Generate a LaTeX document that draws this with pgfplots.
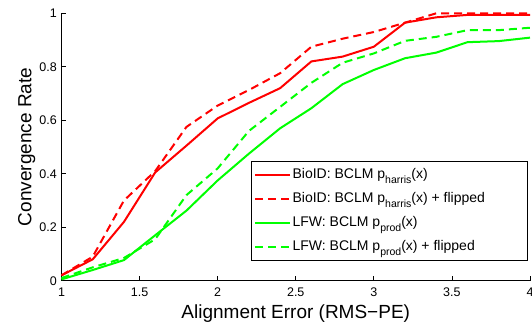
\documentclass[border=0pt]{standalone}
\usepackage{pgfplots}
\pgfplotsset{compat=1.18}
\usepackage{fontspec}
\setmainfont{Liberation Sans}
\definecolor{mred}{rgb}{1,0,0}
\definecolor{mgreen}{rgb}{0,1,0}
\newcommand{\sub}[1]{\raisebox{-4.5pt}{\fontsize{10.5}{10.5}\selectfont #1}}
\newcommand{\entry}[1]{\makebox[230pt][l]{#1}}
\begin{document}
\begin{tikzpicture}
\begin{axis}[
  scale only axis, width=468.5pt, height=267.4pt,
  xmin=1, xmax=4, ymin=0, ymax=1,
  axis lines=left, axis line style={-, line width=0.8pt, black},
  tick align=inside, major tick length=5pt,
  tick style={line width=0.8pt, black},
  xtick={1,1.5,2,2.5,3,3.5,4},
  ytick={0,0.2,0.4,0.6,0.8,1},
  xticklabels={1,1.5,2,2.5,3,3.5,4},
  yticklabels={0,0.2,0.4,0.6,0.8,1},
  /pgf/number format/assume math mode=true,
  tick label style={font=\fontsize{12.5}{14}\selectfont},
  xticklabel style={anchor=north, inner sep=0pt, yshift=-7pt},
  yticklabel style={anchor=east, inner sep=0pt, xshift=-4.5pt},
  xlabel={Alignment Error (RMS−PE)},
  ylabel={Convergence Rate},
  label style={font=\fontsize{19}{22}\selectfont, inner sep=0pt},
  xlabel style={at={(axis description cs:0.5,-0.1418)}, anchor=base},
  ylabel style={at={(axis description cs:-0.0555,0.5)}, anchor=south},
  clip=false,
  legend style={at={(axis description cs:0.9947,0.4477)}, anchor=north east,
    draw=black, line width=0.8pt, inner xsep=3pt, inner ysep=4pt,
    row sep=5pt,
    nodes={inner sep=1.5pt, text height=12pt, text depth=4pt, anchor=base west},
    font=\fontsize{14}{17}\selectfont},
  legend image code/.code={\draw[#1] (0pt,4pt) -- (35pt,4pt);},
  every axis plot/.append style={line width=2pt},
]
\addplot[mred, solid] coordinates {
(1.0,0.02) (1.2,0.08) (1.4,0.22) (1.6,0.405) (1.8,0.505) (2.0,0.607)
(2.2,0.665) (2.4,0.72) (2.6,0.82) (2.8,0.838) (3.0,0.875) (3.2,0.965)
(3.4,0.985) (3.6,0.994) (3.8,0.994) (4.0,0.994)};
\addplot[mred, dash pattern=on 8pt off 5pt] coordinates {
(1.0,0.02) (1.2,0.09) (1.4,0.30) (1.6,0.41) (1.8,0.575) (2.0,0.655)
(2.2,0.713) (2.4,0.776) (2.6,0.875) (2.8,0.905) (3.0,0.93) (3.2,0.965)
(3.4,1.0) (3.6,1.0) (3.8,1.0) (4.0,1.0)};
\addplot[mgreen, solid] coordinates {
(1.0,0.005) (1.2,0.04) (1.4,0.077) (1.6,0.17) (1.8,0.262) (2.0,0.375)
(2.2,0.475) (2.4,0.57) (2.6,0.645) (2.8,0.735) (3.0,0.788) (3.2,0.832)
(3.4,0.853) (3.6,0.892) (3.8,0.896) (4.0,0.909)};
\addplot[mgreen, dash pattern=on 8pt off 5pt] coordinates {
(1.0,0.01) (1.2,0.05) (1.4,0.085) (1.6,0.155) (1.8,0.32) (2.0,0.42)
(2.2,0.56) (2.4,0.65) (2.6,0.74) (2.8,0.815) (3.0,0.85) (3.2,0.897)
(3.4,0.912) (3.6,0.937) (3.8,0.937) (4.0,0.946)};
\legend{\entry{BioID: BCLM p\sub{harris}(x)},
        \entry{BioID: BCLM p\sub{harris}(x) + flipped},
        \entry{LFW: BCLM p\sub{prod}(x)},
        \entry{LFW: BCLM p\sub{prod}(x) + flipped}}
\end{axis}
\path (current axis.south west) ++(-61.5pt,-46.3pt) coordinate (BBa);
\path (current axis.north east) ++(2pt,13.3pt) coordinate (BBb);
\pgfresetboundingbox
\useasboundingbox (BBa) rectangle (BBb);
\end{tikzpicture}
\end{document}
